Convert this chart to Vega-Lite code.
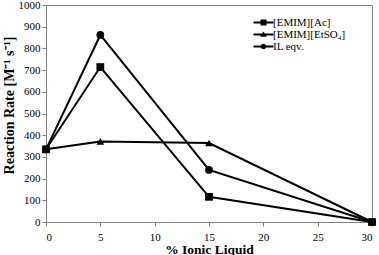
{
  "$schema": "https://vega.github.io/schema/vega-lite/v6.json",
  "width": 326,
  "height": 217,
  "autosize": "none",
  "padding": {"left": 46, "top": 5, "right": 7, "bottom": 33},
  "background": "white",
  "config": {
    "view": {"stroke": "#808080", "strokeWidth": 1},
    "font": "Times New Roman",
    "axis": {
      "grid": false,
      "domainColor": "#808080",
      "tickColor": "#808080",
      "tickSize": 4,
      "labelFont": "Times New Roman",
      "labelFontSize": 11,
      "labelColor": "black",
      "titleFont": "Times New Roman",
      "titleFontSize": 13.5,
      "titleFontWeight": "bold",
      "titleColor": "black"
    }
  },
  "data": {
    "values": [
      {"series": "[EMIM][Ac]", "x": 0, "y": 335},
      {"series": "[EMIM][Ac]", "x": 5, "y": 714},
      {"series": "[EMIM][Ac]", "x": 15, "y": 116},
      {"series": "[EMIM][Ac]", "x": 30, "y": 0},
      {"series": "[EMIM][EtSO₄]", "x": 0, "y": 335},
      {"series": "[EMIM][EtSO₄]", "x": 5, "y": 371},
      {"series": "[EMIM][EtSO₄]", "x": 15, "y": 364},
      {"series": "[EMIM][EtSO₄]", "x": 30, "y": 0},
      {"series": "IL eqv.", "x": 0, "y": 335},
      {"series": "IL eqv.", "x": 5, "y": 862},
      {"series": "IL eqv.", "x": 15, "y": 240},
      {"series": "IL eqv.", "x": 30, "y": 0}
    ]
  },
  "encoding": {
    "x": {
      "field": "x", "type": "quantitative",
      "scale": {"domain": [0, 30], "nice": false},
      "axis": {"values": [0, 5, 10, 15, 20, 25, 30], "format": "d", "title": "% Ionic Liquid", "labelPadding": 5, "titlePadding": 0}
    },
    "y": {
      "field": "y", "type": "quantitative",
      "scale": {"domain": [0, 1000], "nice": false},
      "axis": {"values": [0, 100, 200, 300, 400, 500, 600, 700, 800, 900, 1000], "format": "d", "title": "Reaction Rate   [M⁻¹ s⁻¹]", "titleFontSize": 14, "labelPadding": 2, "titlePadding": 2, "titleY": 100}
    }
  },
  "layer": [
    {
      "mark": {"type": "line", "color": "black", "strokeWidth": 2},
      "encoding": {"detail": {"field": "series"}}
    },
    {
      "mark": {"type": "point", "filled": true, "color": "black", "opacity": 1, "size": 60},
      "encoding": {
        "shape": {
          "field": "series", "type": "nominal",
          "scale": {"domain": ["[EMIM][Ac]", "[EMIM][EtSO₄]", "IL eqv."], "range": ["square", "triangle-up", "circle"]},
          "legend": null
        }
      }
    },
    {
      "mark": {"type": "point", "filled": true, "color": "black", "opacity": 0, "size": 25},
      "encoding": {
        "shape": {
          "field": "series", "type": "nominal",
          "scale": {"domain": ["[EMIM][Ac]", "[EMIM][EtSO₄]", "IL eqv."], "range": ["M-4,-0.4H4V0.4H-4Z M-1.2,-1.2H1.2V1.2H-1.2Z", "M-4,-0.4H4V0.4H-4Z M0,-1.2L1.3,0.9H-1.3Z", "M-4,-0.4H4V0.4H-4Z M1.1,0A1.1,1.1,0,1,1,-1.1,0A1.1,1.1,0,1,1,1.1,0Z"]},
          "legend": {
            "title": null,
            "orient": "none",
            "legendX": 212,
            "legendY": 12,
            "symbolSize": 25,
            "symbolOpacity": 1,
            "symbolFillColor": "black",
            "symbolStrokeWidth": 0,
            "labelFont": "Times New Roman",
            "labelFontSize": 11,
            "labelColor": "black",
            "labelOffset": 4,
            "rowPadding": 0,
            "padding": 0
          }
        }
      }
    }
  ],
  "resolve": {"scale": {"shape": "independent"}, "legend": {"shape": "independent"}}
}
